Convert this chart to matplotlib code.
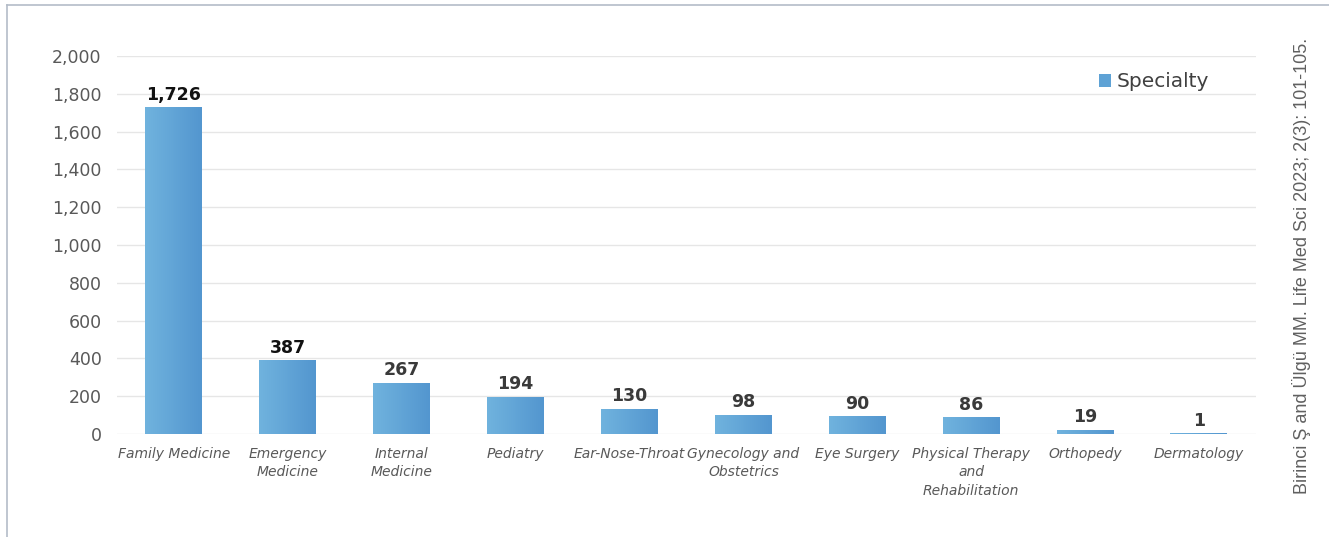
import matplotlib.pyplot as plt
import numpy as np
from matplotlib.lines import Line2D
from matplotlib.patches import Patch
from matplotlib.colors import LinearSegmentedColormap

specialties = ['Family Medicine', 'Emergency\nMedicine', 'Internal\nMedicine', 'Pediatry',
               'Ear-Nose-Throat', 'Gynecology and\nObstetrics', 'Eye Surgery',
               'Physical Therapy\nand\nRehabilitation', 'Orthopedy', 'Dermatology']
counts = [1726, 387, 267, 194, 130, 98, 90, 86, 19, 1]
yticks = [0, 200, 400, 600, 800, 1000, 1200, 1400, 1600, 1800, 2000]

plt.rcParams['font.family'] = 'DejaVu Sans'

fig = plt.figure(figsize=(13.29, 5.37), dpi=100)
ax = fig.add_axes([0.088, 0.1918, 0.857, 0.7039])

x = np.arange(len(counts))
bars = ax.bar(x, counts, width=0.5, color='#5ea2d5', zorder=2)

# horizontal gradient on each bar
grad = np.linspace(0, 1, 64).reshape(1, -1)
cmap = LinearSegmentedColormap.from_list('barblue', ['#70b3de', '#5396cf'])
for b in bars:
    x0, y0 = b.get_x(), b.get_y()
    w, h = b.get_width(), b.get_height()
    ax.imshow(grad, cmap=cmap, aspect='auto', extent=[x0, x0 + w, y0, y0 + h],
              zorder=3, interpolation='bicubic')
    b.set_alpha(0)

for i, v in enumerate(counts):
    col = '#111111' if i < 2 else '#3a3a3a'
    ax.text(i, v + 22, f'{v:,}', ha='center', va='bottom', fontsize=12.5,
            fontweight='bold', color=col, zorder=4)

ax.set_xlim(-0.5, len(counts) - 0.5)
ax.set_ylim(0, 2000)
ax.set_yticks(yticks)
ax.set_yticklabels([f'{t:,}' for t in yticks], fontsize=12.5, color='#595959')
ax.set_xticks(x)
ax.set_xticklabels(specialties, fontsize=10, style='italic', color='#595959',
                   linespacing=1.45, va='top')
ax.tick_params(axis='both', length=0)
ax.tick_params(axis='y', pad=11)
ax.tick_params(axis='x', pad=9)
ax.grid(axis='y', color='#e6e6e6', linewidth=1, zorder=0)
for s in ax.spines.values():
    s.set_visible(False)

handle = Patch(facecolor='#5ea2d5', edgecolor='none')
ax.legend([handle], ['Specialty'], loc='upper right', bbox_to_anchor=(0.975, 1.005),
          frameon=False, fontsize=14.5, handlelength=0.6, handleheight=0.6,
          handletextpad=0.3, labelcolor='#404040')

fig.text(0.979, 0.505, 'Birinci Ş and Ülgü MM. Life Med Sci 2023; 2(3): 101-105.',
         rotation=90, ha='center', va='center', fontsize=13,
         family='Liberation Sans', color='#606060')

# outer frame (top and left edges)
fig.add_artist(Line2D([0.0053, 1.0], [0.9907, 0.9907], color='#b4bcc8', lw=1.2,
                      transform=fig.transFigure))
fig.add_artist(Line2D([0.0053, 0.0053], [0.0, 0.9907], color='#b4bcc8', lw=1.2,
                      transform=fig.transFigure))

fig.savefig('out.png', dpi=100)
